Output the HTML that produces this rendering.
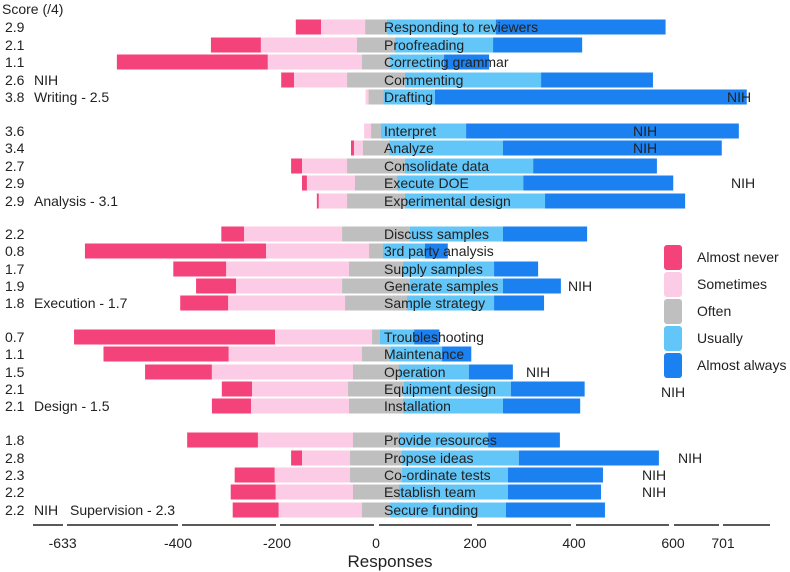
<!DOCTYPE html>
<html><head><meta charset="utf-8"><style>
body{margin:0;background:#fff;}
svg{display:block;font-family:"Liberation Sans",Arial,sans-serif;}
</style></head><body>
<svg id="chart" width="790" height="572" viewBox="0 0 790 572"></svg>
<script>
const categories=["Responding to reviewers","Proofreading","Correcting grammar","Commenting","Drafting","Interpret","Analyze","Consolidate data","Execute DOE","Experimental design","Discuss samples","3rd party analysis","Supply samples","Generate samples","Sample strategy","Troubleshooting","Maintenance","Operation","Equipment design","Installation","Provide resources","Propose ideas","Co-ordinate tests","Establish team","Secure funding"];
const scores=["2.9","2.1","1.1","2.6","3.8","3.6","3.4","2.7","2.9","2.9","2.2","0.8","1.7","1.9","1.8","0.7","1.1","1.5","2.1","2.1","1.8","2.8","2.3","2.2","2.2"];
const almostNever=[51,101,305,26,0,0,6,22,10,4,46,366,107,81,97,406,253,135,61,79,143,22,81,91,93];
const sometimes=[89,194,190,107,6,14,18,91,97,57,198,208,248,214,236,196,269,285,194,198,192,97,152,156,168];
const often=[44,77,57,117,30,20,53,117,85,117,137,28,109,137,125,16,57,93,113,109,93,105,105,93,57];
const usually=[220,198,109,275,104,172,230,259,255,283,188,85,184,188,176,69,105,141,216,202,180,236,214,220,234];
const almostAlways=[343,180,91,226,630,551,442,250,303,283,170,46,89,117,101,51,59,89,149,156,145,283,192,188,200];
const tickValues=[-633,-400,-200,0,200,400,600,701];
const seriesNames=["Almost never","Sometimes","Often","Usually","Almost always"];
const colors=["#f4427a","#fccbe6","#bfbfbf","#62c6f8","#1b80f0"];
const rowY=[27,45,62,80,97,131,148,166,183,201,234,251,269,286,303,337,354,372,389,406,440,458,475,492,510];
const X0=376, K=0.495;
const x=v=>X0+v*K;
const svg=document.getElementById('chart');
const NS='http://www.w3.org/2000/svg';
function mk(tag,attrs,txt){const e=document.createElementNS(NS,tag);for(const k in attrs)e.setAttribute(k,attrs[k]);if(txt!==undefined)e.textContent=txt;svg.appendChild(e);return e;}
const series=[almostNever,sometimes,often,usually,almostAlways];
categories.forEach((c,i)=>{
  let start=-(almostNever[i]+sometimes[i]+often[i]/2);
  series.forEach((s,j)=>{
    const r=mk('rect',{x:x(start),y:rowY[i]-7.5,width:s[i]*K,height:15,fill:colors[j]});
    
    
    start+=s[i];
  });
  const t=mk('text',{x:384,y:rowY[i]+5,'font-size':14,fill:'#222'},c);
  
  
  const s=mk('text',{x:5,y:rowY[i]+5,'font-size':14,fill:'#222'},scores[i]);
  
  
});
const notes=[[34,80,"NIH"],[34,97,"Writing - 2.5"],[34,201,"Analysis - 3.1"],[34,303,"Execution - 1.7"],[34,406,"Design - 1.5"],[34,510,"NIH"],[70,510,"Supervision - 2.3"],
[727,97,"NIH"],[633,131,"NIH"],[633,148,"NIH"],[731,183,"NIH"],[568,286,"NIH"],[526,372,"NIH"],[661,392,"NIH"],[678,458,"NIH"],[642,475,"NIH"],[642,492,"NIH"]];
notes.forEach(n=>{const t=mk('text',{x:n[0],y:n[1]+5,'font-size':14,fill:'#222'},n[2]);

});
const st=mk('text',{x:2,y:14,'font-size':14,fill:'#222'},"Score (/4)");


const segs=[[33,63],[67,178],[182,276],[280,374],[379,472],[477,571],[576,669],[674,719],[723,770]];
segs.forEach(s=>{const l=mk('line',{x1:s[0],x2:s[1],y1:525,y2:525,stroke:'#222','stroke-width':1.5});

});
tickValues.forEach(v=>{const t=mk('text',{x:x(v),y:548,'font-size':14,fill:'#222','text-anchor':'middle'},String(v));

});
const xt=mk('text',{x:390,y:567,'font-size':17,fill:'#222','text-anchor':'middle'},"Responses");


seriesNames.forEach((n,j)=>{const y=257+j*27;
const r=mk('rect',{x:664,y:y-12,width:18,height:25,rx:3,fill:colors[j]});


const t=mk('text',{x:697,y:y+5,'font-size':14,fill:'#222'},n);

});
</script>
</body></html>
